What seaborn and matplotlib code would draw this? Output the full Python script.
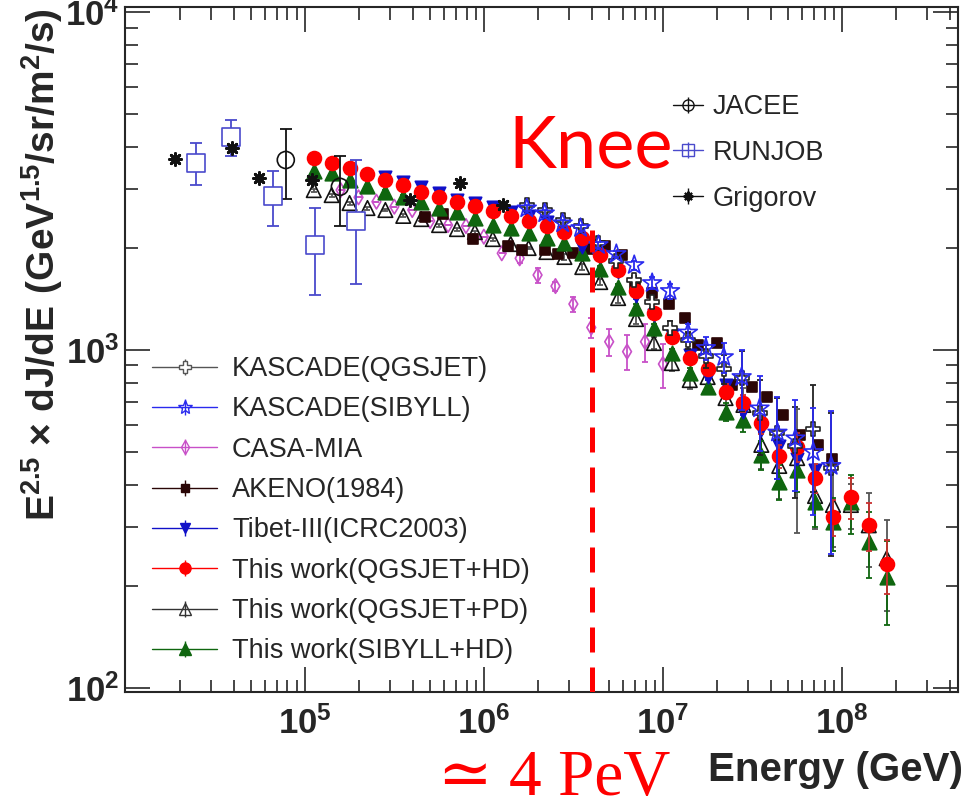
import numpy as np
import pandas as pd
import matplotlib
matplotlib.use('Agg')
import matplotlib.pyplot as plt
from matplotlib.lines import Line2D
import seaborn as sns

# ---------------- data: energy (GeV) and E^2.5 dJ/dE ----------------
# "This work" bins, log10(E) bin centres
work_log_e = [5.05, 5.15, 5.25, 5.35, 5.45, 5.55, 5.65, 5.75, 5.85, 5.95, 6.05,
              6.15, 6.25, 6.35, 6.45, 6.55, 6.65, 6.75, 6.85, 6.95, 7.05, 7.15,
              7.25, 7.35, 7.45, 7.55, 7.65, 7.75, 7.85, 7.95, 8.05, 8.15, 8.25]
qgsjet_hd = [3710, 3570, 3450, 3310, 3180, 3080, 2940, 2840, 2750, 2660, 2570,
             2490, 2410, 2330, 2240, 2140, 1910, 1730, 1500, 1290, 1090, 945,
             877, 753, 696, 607, 486, 518, 419, 321, 368, 303, 232]
qgsjet_hd_err = [0.01, 0.01, 0.01, 0.01, 0.01, 0.01, 0.01, 0.01, 0.01, 0.01, 0.01,
                 0.01, 0.01, 0.01, 0.01, 0.01, 0.01, 0.01, 0.02, 0.02, 0.02, 0.03,
                 0.04, 0.05, 0.06, 0.07, 0.08, 0.10, 0.10, 0.12, 0.14, 0.16, 0.18]
qgsjet_pd = [2973, 2874, 2722, 2631, 2596, 2494, 2441, 2343, 2280, 2234, 2130,
             2059, 2004, 1950, 1885, 1760, 1589, 1425, 1235, 1049, 915, 815,
             832, 721, 688, 524, 454, 479, 370, 348, 348, 303, 242]
qgsjet_pd_err = [0.01, 0.01, 0.01, 0.01, 0.01, 0.01, 0.01, 0.01, 0.01, 0.01, 0.01,
                 0.01, 0.01, 0.01, 0.02, 0.02, 0.02, 0.03, 0.03, 0.04, 0.05, 0.06,
                 0.08, 0.10, 0.12, 0.15, 0.20, 0.40, 0.20, 0.25, 0.15, 0.25, 0.30]
sibyll_hd = [3385, 3333, 3184, 3057, 2940, 2842, 2747, 2625, 2566, 2453, 2343,
             2291, 2214, 2141, 2069, 1933, 1733, 1539, 1329, 1159, 978, 853,
             779, 657, 621, 489, 408, 442, 356, 310, 356, 271, 213]
sibyll_hd_err = [0.01, 0.01, 0.01, 0.01, 0.01, 0.01, 0.01, 0.01, 0.01, 0.01, 0.01,
                 0.01, 0.01, 0.01, 0.01, 0.02, 0.02, 0.02, 0.03, 0.03, 0.03, 0.04,
                 0.05, 0.06, 0.08, 0.10, 0.12, 0.14, 0.16, 0.18, 0.20, 0.22, 0.28]

casa_log_e = [5.2, 5.3, 5.4, 5.5, 5.6, 5.7, 5.8, 5.9, 6.0, 6.1, 6.2, 6.3, 6.4,
              6.5, 6.6, 6.7, 6.8, 6.9, 7.0]
casa_mia = [2973, 2830, 2747, 2655, 2596, 2408, 2343, 2327, 2164, 1933, 1868,
            1667, 1546, 1368, 1166, 1058, 989, 1058, 909]
casa_err = [0, 0, 0, 0, 0, 0, 0, 0, 0, 0, 0.03, 0.05, 0.03, 0.05, 0.07, 0.09,
            0.12, 0.13, 0.15]

akeno_e = [4.68e5, 5.90e5, 8.68e5, 1.36e6, 1.63e6, 2.19e6, 2.59e6, 3.14e6,
           3.81e6, 4.74e6, 5.90e6, 6.98e6, 8.68e6, 1.08e7, 1.33e7, 1.57e7,
           2.00e7, 2.43e7, 3.14e7, 3.81e7, 4.68e7, 5.82e7, 7.34e7, 8.79e7]
akeno = [2475, 2526, 2130, 2031, 1977, 1977, 1923, 1936, 1990, 2031, 1910,
         1557, 1475, 1368, 1244, 1034, 1049, 788, 777, 726, 642, 560, 524, 476]

tibet_log_e = [5.45, 5.55, 5.65, 5.75, 5.85, 5.95, 6.05, 6.15, 6.25, 6.35, 6.45,
               6.55, 6.65, 6.75, 6.85, 6.95, 7.05, 7.15, 7.25, 7.35, 7.45, 7.55,
               7.65, 7.75, 7.85]
tibet = [3261, 3131, 3026, 2921, 2779, 2722, 2649, 2566, 2500, 2394, 2235,
         2017, 1900, 1700, 1447, 1270, 1110, 965, 832, 788, 655, 580, 520, 475, 442]

kascade_log_e = [6.24, 6.34, 6.44, 6.54, 6.64, 6.74, 6.84, 6.94, 7.04, 7.14,
                 7.24, 7.34, 7.44, 7.54, 7.64, 7.74, 7.84, 7.94]
kascade_qgsjet = [2685, 2596, 2425, 2327, 2069, 1840, 1610, 1390, 1164, 1070,
                  960, 880, 826, 650, 567, 520, 583, 448]
kascade_sibyll = [2625, 2538, 2371, 2296, 2045, 1923, 1784, 1578, 1495, 1127,
                  1014, 953, 832, 672, 570, 548, 499, 454]
kascade_err = [0.02, 0.02, 0.02, 0.02, 0.02, 0.02, 0.03, 0.04, 0.05, 0.06,
               0.08, 0.10, 0.20, 0.25, 0.27, 0.30, 0.35, 0.45]

jacee_e = [7.83e4, 1.57e5]
jacee = [3650, 3040]
jacee_err = [860, 710]

runjob_e = [2.46e4, 3.85e4, 6.66e4, 1.14e5, 1.93e5]
runjob = [3580, 4280, 2860, 2050, 2410]
runjob_lo = [505, 540, 540, 600, 840]
runjob_hi = [505, 515, 515, 580, 1235]

grigorov_e = [1.88e4, 3.91e4, 5.53e4, 1.09e5, 3.86e5, 7.35e5, 1.28e6]
grigorov = [3670, 3960, 3230, 3180, 2780, 3120, 2690]

knee_e = 4e6
knee_top = 2265

# ---------------- style ----------------
sns.set_style('ticks')
plt.rcParams['font.family'] = ['Liberation Sans', 'DejaVu Sans']
plt.rcParams['axes.linewidth'] = 1.5

RED = '#ff0000'
GREEN = '#0f660f'
BLACK = '#111111'
TIBET = '#1010c8'
KAS_BLUE = '#2a2aee'
PINK = '#c850c8'
AKENO = '#2a0606'
RUNJOB = '#4a4acc'

fig = plt.figure(figsize=(9.67, 8.11), dpi=100)
ax = fig.add_axes([125 / 967, 1 - 692 / 811, (958 - 125) / 967, (692 - 7) / 811])


def draw(e, v, color, marker, size, face, err=None, err_lo=None, err_hi=None,
         ecolor=None, lw=1.2, cap=2, z=3):
    e = np.asarray(e, dtype=float)
    v = np.asarray(v, dtype=float)
    if err is not None:
        yerr = v * np.asarray(err)
    elif err_lo is not None:
        yerr = [err_lo, err_hi]
    else:
        yerr = None
    if yerr is not None:
        ax.errorbar(e, v, yerr=yerr, fmt='none', ecolor=ecolor or color,
                    elinewidth=1.3, capsize=cap, capthick=1.3, zorder=z)
    df = pd.DataFrame({'E': e, 'flux': v})
    kw = dict(marker=marker, s=size, color=color, linewidth=lw, zorder=z + 0.5)
    if marker in ('+', 'x') or isinstance(marker, tuple):
        kw['facecolor'] = color
    else:
        kw['facecolor'] = face
        kw['edgecolor'] = color
    sns.scatterplot(data=df, x='E', y='flux', ax=ax, legend=False, **kw)


draw(10 ** np.array(casa_log_e), casa_mia, PINK, 'd', 55, 'none', err=casa_err, z=2)
draw(10 ** np.array(work_log_e), qgsjet_pd, BLACK, '^', 110, 'none',
     err=qgsjet_pd_err, ecolor='#555555', z=3)
draw(akeno_e, akeno, AKENO, 's', 55, AKENO, z=4)
draw(10 ** np.array(work_log_e), sibyll_hd, GREEN, '^', 110, GREEN,
     err=sibyll_hd_err, z=5)
draw(10 ** np.array(tibet_log_e), tibet, TIBET, 'v', 80, TIBET, err=[0.02] * len(tibet), z=6)
draw(10 ** np.array(work_log_e), qgsjet_hd, RED, 'o', 100, RED,
     err=qgsjet_hd_err, ecolor='#c83030', z=7)
draw(10 ** np.array(kascade_log_e), kascade_qgsjet, '#222222', 'P', 110, 'white',
     err=kascade_err, z=8)
draw(10 ** np.array(kascade_log_e), kascade_sibyll, KAS_BLUE, '*', 200, 'none',
     err=kascade_err, z=9)
draw(jacee_e, jacee, BLACK, 'o', 150, 'none', err_lo=jacee_err, err_hi=jacee_err,
     cap=4, z=10)
draw(runjob_e, runjob, RUNJOB, 's', 150, 'white', err_lo=runjob_lo, err_hi=runjob_hi,
     cap=4, z=10)
draw(grigorov_e, grigorov, BLACK, (8, 2, 0), 75, BLACK, lw=2.0, z=11)

# knee marker
ax.plot([knee_e, knee_e], [97.3, knee_top], color='red', lw=3.6,
        linestyle=(0, (5, 3)), zorder=20)

ax.set_xscale('log')
ax.set_yscale('log')
ax.set_xlim(9.9e3, 4.45e8)
ax.set_ylim(97.3, 1.035e4)
ax.set_xticks([1e5, 1e6, 1e7, 1e8])
ax.set_xlabel('')
ax.set_ylabel('')
ax.tick_params(which='both', direction='in', top=True, right=True, width=1.2)
ax.tick_params(which='major', length=18)
ax.tick_params(which='minor', length=9)
ax.tick_params(axis='x', which='major', pad=10)
ax.tick_params(axis='y', which='major', pad=4)
for lab in ax.get_xticklabels() + ax.get_yticklabels():
    lab.set_fontsize(25)
    lab.set_fontweight('bold')
for sp in ax.spines.values():
    sp.set_visible(True)
    sp.set_linewidth(1.5)


def handle(color, marker, size, face):
    line = Line2D([], [], color=color, lw=1.0)
    bar = Line2D([], [], color=color, marker='|', markersize=11,
                 markeredgewidth=1.0, linestyle='none')
    if isinstance(marker, tuple):
        mk = Line2D([], [], color=color, marker=marker, markersize=size,
                    markeredgewidth=1.5, linestyle='none')
    else:
        mk = Line2D([], [], color=color, marker=marker, markersize=size,
                    markerfacecolor=face, markeredgecolor=color,
                    markeredgewidth=1.0, linestyle='none')
    return (line, bar, mk)


labels_main = ['KASCADE(QGSJET)', 'KASCADE(SIBYLL)', 'CASA-MIA', 'AKENO(1984)',
               'Tibet-III(ICRC2003)', 'This work(QGSJET+HD)',
               'This work(QGSJET+PD)', 'This work(SIBYLL+HD)']
handles_main = [handle('#555555', 'P', 8, 'white'),
                handle(KAS_BLUE, '*', 10, 'none'),
                handle(PINK, 'd', 7, 'none'),
                handle(AKENO, 's', 6, AKENO),
                handle(TIBET, 'v', 7, TIBET),
                handle(RED, 'o', 8, RED),
                handle('#333333', '^', 8, 'none'),
                handle(GREEN, '^', 8, GREEN)]
leg1 = ax.legend(handles_main, labels_main, loc='upper left',
                 bbox_to_anchor=(152 / 967, 1 - 356 / 811),
                 bbox_transform=fig.transFigure, frameon=False, fontsize=19.5,
                 borderpad=0, borderaxespad=0, handlelength=2.4,
                 handletextpad=0.55, labelspacing=0.53)
ax.add_artist(leg1)

labels_top = ['JACEE', 'RUNJOB', 'Grigorov']
handles_top = [handle(BLACK, 'o', 8, 'none'),
               handle(RUNJOB, 's', 8, 'none'),
               handle(BLACK, (8, 2, 0), 7, BLACK)]
ax.legend(handles_top, labels_top, loc='upper left',
          bbox_to_anchor=(673 / 967, 1 - 94 / 811),
          bbox_transform=fig.transFigure, frameon=False, fontsize=19.5,
          borderpad=0, borderaxespad=0, handlelength=1.1,
          handletextpad=0.35, labelspacing=0.73)

# axis titles (ROOT style placement)
fig.text(42 / 967, 1 - 8 / 811,
         r'$\mathdefault{E^{2.5}}$ × $\mathdefault{dJ/dE\ (GeV^{1.5}/sr/m^{2}/s)}$',
         rotation=90, ha='center', va='top', fontsize=28, fontweight='bold')
fig.text(963 / 967, 1 - 770 / 811, 'Energy (GeV)', ha='right', va='center',
         fontsize=29, fontweight='bold')

# annotations
fig.text(508 / 967, 1 - 168 / 811, 'Knee', color='red', fontsize=52,
         family='Lato', va='baseline')
fig.text(438 / 967, 1 - 795 / 811, '≃ 4 PeV', color='red', fontsize=47,
         family=['Liberation Serif', 'DejaVu Serif'], va='baseline')

fig.savefig('out.png', dpi=100)
